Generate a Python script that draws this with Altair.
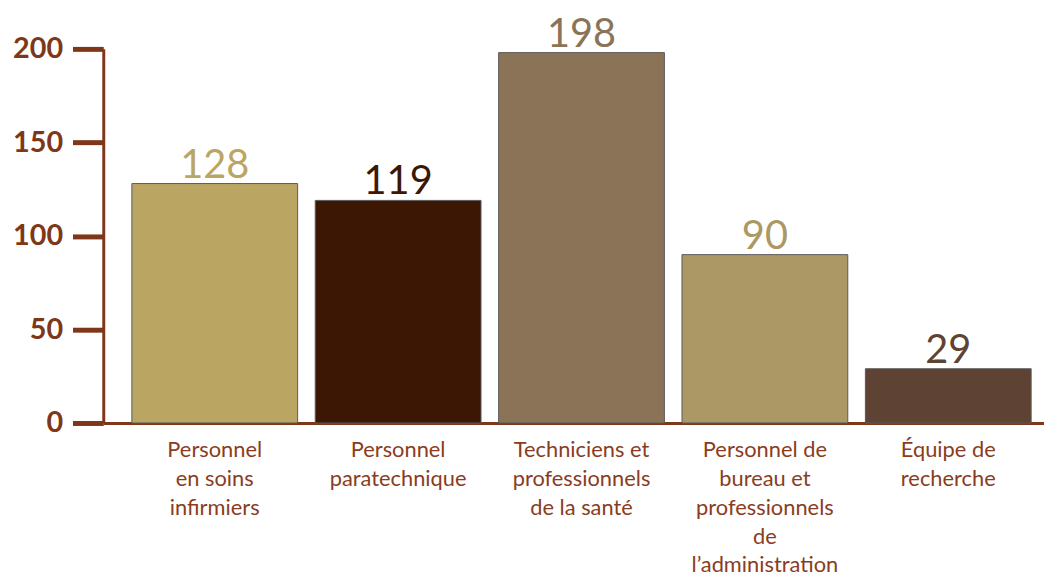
import altair as alt
import pandas as pd

categories = [
    "Personnel|en soins|infirmiers",
    "Personnel|paratechnique",
    "Techniciens et|professionnels|de la santé",
    "Personnel de|bureau et|professionnels|de|l’administration",
    "Équipe de|recherche",
]
values = [128, 119, 198, 90, 29]
colors = ["#BBA563", "#3C1703", "#8B7358", "#AB9864", "#5E4334"]
y_ticks = [0, 50, 100, 150, 200]

df = pd.DataFrame({"cat": categories, "val": values})

axis_color = "#7E3719"

x = alt.X(
    "cat:N",
    sort=None,
    title=None,
    scale=alt.Scale(paddingInner=0.096, paddingOuter=0.113, align=0.69),
    axis=alt.Axis(
        labelExpr="split(datum.label, '|')",
        labelAngle=0,
        labelFont="Lato",
        labelFontSize=22,
        labelLineHeight=29,
        labelColor="#8A3D1E",
        labelBaseline="top",
        labelPadding=17,
        ticks=False,
        domainColor=axis_color,
        domainWidth=3,
        labelLimit=300,
    ),
)

color = alt.Color(
    "cat:N",
    sort=None,
    scale=alt.Scale(domain=categories, range=colors),
    legend=None,
)

bars = alt.Chart(df).mark_bar(stroke="#5a5a5a", strokeWidth=1).encode(
    x=x,
    y=alt.Y(
        "val:Q",
        title=None,
        scale=alt.Scale(domain=[0, 200], nice=False),
        axis=alt.Axis(
            values=y_ticks,
            grid=False,
            labelFont="Lato",
            labelFontWeight="bold",
            labelFontSize=29,
            labelColor=axis_color,
            labelPadding=10,
            tickSize=31,
            tickWidth=5,
            tickColor=axis_color,
            domainColor=axis_color,
            domainWidth=3,
        ),
    ),
    color=color,
)

labels = alt.Chart(df).mark_text(
    font="Lato", fontSize=40, baseline="alphabetic", dy=-6
).encode(
    x=alt.X("cat:N", sort=None),
    y=alt.Y("val:Q"),
    text=alt.Text("val:Q"),
    color=color,
)

chart = (
    alt.layer(bars, labels)
    .properties(
        width=948,
        height=377,
        padding={"left": 96, "top": 39, "right": 0, "bottom": 152},
        autosize=alt.AutoSizeParams(type="none"),
    )
    .configure_view(stroke=None)
)

chart.save("out.html", embed_options={"renderer": "svg", "actions": False})
